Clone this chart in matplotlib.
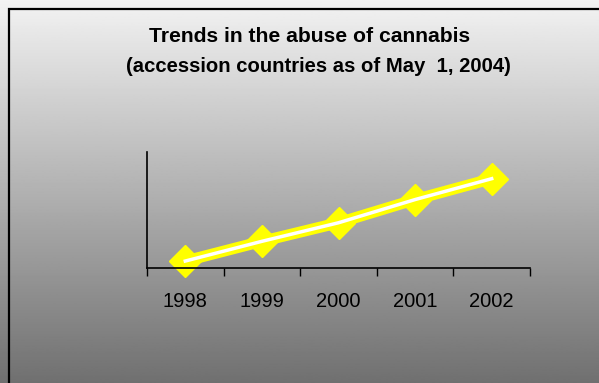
import numpy as np
import matplotlib
matplotlib.use("Agg")
import matplotlib.pyplot as plt
from matplotlib.patches import Rectangle

plt.rcParams['font.family'] = ['Liberation Sans', 'DejaVu Sans']

years = ["1998", "1999", "2000", "2001", "2002"]
abuse = [6, 23, 39, 59, 77]

W, H = 599, 383
fig = plt.figure(figsize=(W / 100, H / 100), dpi=100)

# gradient background
bg = fig.add_axes([0, 0, 1, 1], zorder=0)
grad = np.linspace(0.95, 0.44, 256).reshape(-1, 1)
bg.imshow(grad, cmap="gray", vmin=0, vmax=1, aspect="auto", extent=[0, 1, 0, 1])
bg.set_xlim(0, 1)
bg.set_ylim(0, 1)
bg.axis("off")
bg.add_patch(Rectangle((9 / W, -0.1), 1.2, 1 - 9 / H + 0.1, fill=False,
                       edgecolor="black", linewidth=1.6))

bg.text(310 / W, 1 - 36 / H, "Trends in the abuse of cannabis", ha="center", va="center",
        fontsize=15.2, fontweight="bold")
bg.text(318 / W, 1 - 67 / H, "(accession countries as of May  1, 2004)", ha="center",
        va="center", fontsize=14.6, fontweight="bold")

# main axes: x from 147 to 530 px, y from 268 to 152 px
ax = fig.add_axes([147 / W, 1 - 268 / H, (530 - 147) / W, (268 - 152) / H], zorder=1)
ax.patch.set_alpha(0)
x = np.arange(len(years))
ax.plot(x, abuse, color="#ffff00", linewidth=8, marker="D", markersize=16,
        markeredgecolor="#ffff00", solid_capstyle="butt", zorder=2)
ax.plot(x, abuse, color="white", linewidth=2.5, zorder=3)
ax.set_xlim(-0.5, len(years) - 0.5)
ax.set_ylim(0, 100)
ax.set_xticks(np.arange(-0.5, len(years), 1.0))
ax.set_xticklabels([])
ax.set_xticks(x, minor=True)
ax.set_xticklabels(years, minor=True, fontsize=14.5)
ax.tick_params(axis="x", which="major", direction="out", length=6, width=1, color="black")
ax.tick_params(axis="x", which="minor", length=0, pad=17)
ax.set_yticks([])
for s in ["top", "right"]:
    ax.spines[s].set_visible(False)
for s in ["left", "bottom"]:
    ax.spines[s].set_linewidth(1.2)
for ln in ax.lines:
    ln.set_clip_on(False)

fig.savefig("out.png", dpi=100)
